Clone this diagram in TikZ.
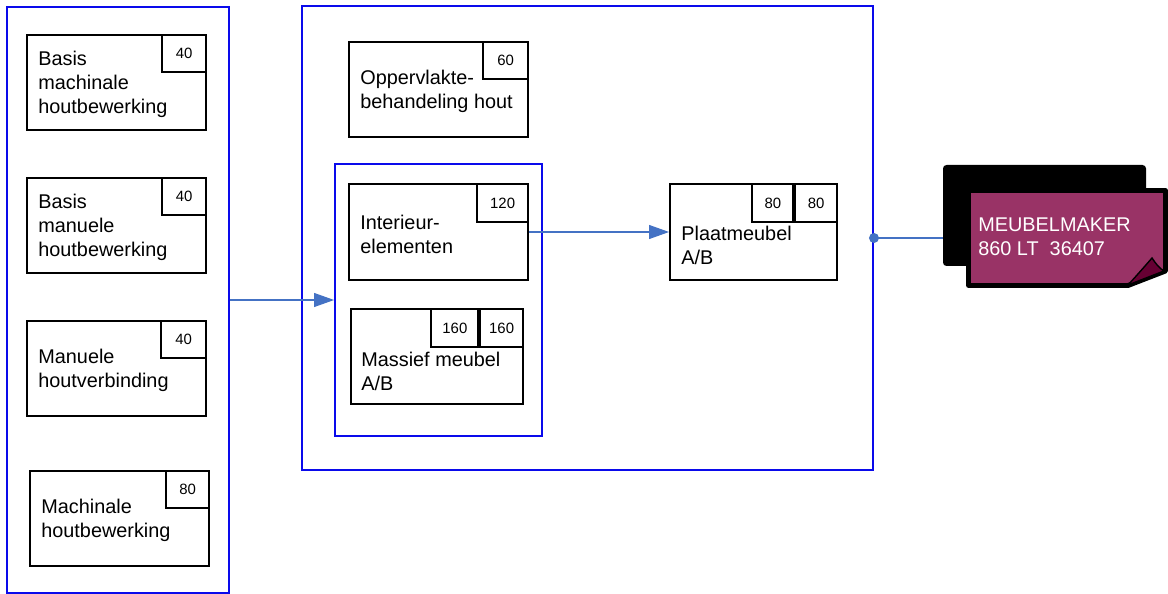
\documentclass[tikz,border=0pt]{standalone}
\usepackage{fontspec}
\setmainfont{Liberation Sans}
\usetikzlibrary{arrows.meta,fit}
\definecolor{frameblue}{RGB}{10,10,235}
\definecolor{linkblue}{RGB}{68,114,196}
\definecolor{certred}{RGB}{153,51,102}
\definecolor{certfold}{RGB}{102,0,51}
\begin{document}
\begin{tikzpicture}[x=0.02cm, y=-0.02cm,
  frame/.style={draw=frameblue, line width=1.1pt, inner sep=0pt},
  course/.style={draw, line width=1.1pt, inner sep=0pt},
  badge/.style={draw, line width=1pt, anchor=north east, minimum width=0.88cm,
    minimum height=0.74cm, inner sep=0pt, font=\fontsize{8.5}{10}\selectfont},
  lbl/.style={anchor=west, align=left, inner sep=0pt, font=\fontsize{11.3}{13.6}\selectfont},
  link/.style={draw=linkblue, line width=0.6pt},
  tip/.style={-{Triangle[length=0.4cm,width=0.28cm]}}]
\useasboundingbox[fill=white] (0,0) rectangle (1168,594);
% basic courses
\node[frame, fit={(7,7) (229,593)}] (basis) {};
\node[course, fit={(27,35) (206,130)}] (bm) {};
\node[badge] (bm-n) at (bm.north east) {40};
\node[lbl] (bm-t) at (38,84) {Basis\\machinale\\houtbewerking};
\node[course, fit={(27,178) (206,273)}] (bmn) {};
\node[badge] (bmn-n) at (bmn.north east) {40};
\node[lbl] (bmn-t) at (38,227) {Basis\\manuele\\houtbewerking};
\node[course, fit={(27,321) (206,416)}] (mh) {};
\node[badge, minimum width=0.9cm] (mh-n) at (mh.north east) {40};
\node[lbl] (mh-t) at (38,370) {Manuele\\houtverbinding};
\node[course, fit={(30,471) (209,566)}] (mhb) {};
\node[badge, minimum width=0.86cm] (mhb-n) at (mhb.north east) {80};
\node[lbl] (mhb-t) at (41,520) {Machinale\\houtbewerking};
% furniture courses
\node[frame, fit={(302,6) (873,470)}] (meubel) {};
\node[course, fit={(349,42) (528,137)}] (opp) {};
\node[badge, minimum width=0.9cm] (opp-n) at (opp.north east) {60};
\node[lbl] (opp-t) at (360,91) {Oppervlakte-\\behandeling hout};
\node[frame, fit={(335,164) (542,436)}] (kern) {};
\node[course, fit={(349,184) (528,280)}] (int) {};
\node[badge, minimum width=1.02cm, minimum height=0.76cm] (int-n) at (int.north east) {120};
\node[lbl] (int-t) at (360,234) {Interieur-\\elementen};
\node[course, fit={(351,309) (523,404)}] (mas) {};
\node[badge, minimum width=0.86cm, minimum height=0.76cm] (mas-n2) at (mas.north east) {160};
\node[badge, minimum width=0.94cm, minimum height=0.76cm] (mas-n1) at (mas-n2.north west) {160};
\node[lbl] (mas-t) at (361,371) {Massief meubel\\A/B};
\node[course, fit={(670,184) (837,280)}] (plt) {};
\node[badge, minimum width=0.84cm, minimum height=0.76cm] (plt-n2) at (plt.north east) {80};
\node[badge, minimum width=0.82cm, minimum height=0.76cm] (plt-n1) at (plt-n2.north west) {80};
\node[lbl] (plt-t) at (681,245) {Plaatmeubel\\A/B};
% certificate
\node[fill=black, rounded corners=2pt, inner sep=0pt, fit={(943,165) (1146,266)}] (cert) {};
\draw[line width=2.8pt, line join=round, fill=certred]
  (968.5,190.5) -- (1165.5,190.5) -- (1165.5,271) -- (1128,285.5) -- (968.5,285.5) -- cycle;
\draw[line width=0.8pt, fill=certfold]
  (1128,285) .. controls (1138,274) .. (1152,258) .. controls (1156,264) and (1159,268) .. (1164,271) -- cycle;
\node[lbl, text=white] (cert-t) at (978,237) {MEUBELMAKER\\860 LT\ \ 36407};
% links
\draw[link, tip] (basis.east) -- (kern.west);
\draw[link, tip] (int.east) -- (plt.west);
\draw[link] (meubel.east) -- (meubel.east -| cert.west);
\fill[linkblue] (meubel.east) circle (0.1cm);
\end{tikzpicture}
\end{document}
